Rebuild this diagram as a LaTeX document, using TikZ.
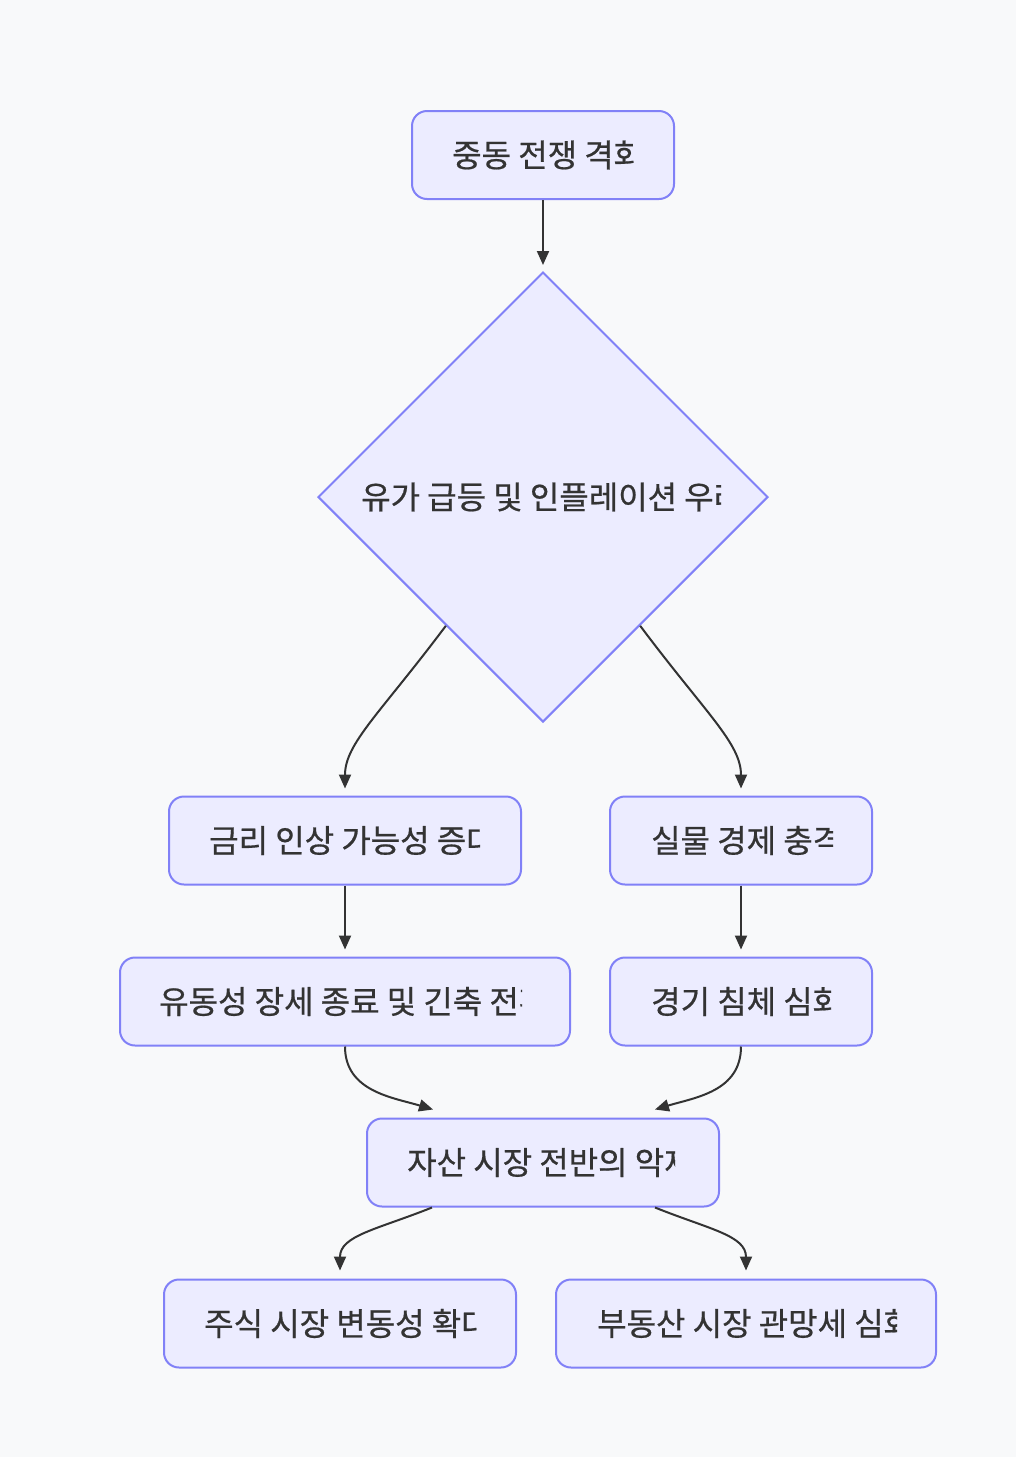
\documentclass[tikz,border=0pt]{standalone}
\usepackage{fontspec}
\setmainfont[FakeBold=0.6]{Noto Sans CJK KR}
\usetikzlibrary{arrows.meta,shapes.geometric,calc}
\definecolor{bgc}{HTML}{F8F9FA}
\definecolor{nodefill}{HTML}{ECECFF}
\definecolor{nodeline}{HTML}{8181F7}
\definecolor{txt}{HTML}{333333}
\newcommand\cliplabel[5]{%
  \begin{scope}
    \clip (#2-6,#4-32) rectangle (#3,#4+32);
    \node[lbl,anchor=west] (#1) at (#2,#4) {#5};
  \end{scope}}
\begin{document}
\begin{tikzpicture}[x=1pt,y=-1pt,
  box/.style={draw=nodeline,fill=nodefill,line width=2pt,rounded corners=15pt,inner sep=0pt},
  dia/.style={draw=nodeline,fill=nodefill,line width=2pt,diamond,aspect=1,inner sep=0pt,minimum width=450pt,minimum height=450pt},
  lbl/.style={inner sep=0pt,text=txt,font=\fontsize{32}{38}\selectfont},
  edge/.style={draw=txt,line width=2pt,-{Triangle[length=14pt,width=12pt]}}]
\fill[bgc] (0,0) rectangle (1016,1457);
\useasboundingbox (0,0) rectangle (1016,1457);

\node[box,minimum width=262pt,minimum height=88pt] (a) at (543,155) {};
\node[dia] (b) at (543,497) {};
\node[box,minimum width=352pt,minimum height=88pt] (c) at (345,840.5) {};
\node[box,minimum width=262pt,minimum height=88pt] (d) at (741,840.5) {};
\node[box,minimum width=450pt,minimum height=88pt] (e) at (345,1001.5) {};
\node[box,minimum width=262pt,minimum height=88pt] (f) at (741,1001.5) {};
\node[box,minimum width=352pt,minimum height=88pt] (g) at (543,1162.5) {};
\node[box,minimum width=352pt,minimum height=88pt] (h) at (340,1323.5) {};
\node[box,minimum width=380pt,minimum height=88pt] (i) at (746,1323.5) {};

\cliplabel{ta}{452}{634}{155}{중동 전쟁 격화}
\cliplabel{tb}{361}{721}{497}{유가 급등 및 인플레이션 우려}
\cliplabel{tc}{209}{480}{840.5}{금리 인상 가능성 증대}
\cliplabel{td}{651}{833}{840.5}{실물 경제 충격}
\cliplabel{te}{159}{522}{1001.5}{유동성 장세 종료 및 긴축 전환}
\cliplabel{tf}{651}{831}{1001.5}{경기 침체 심화}
\cliplabel{tg}{407}{675}{1162.5}{자산 시장 전반의 악재}
\cliplabel{th}{204}{477}{1323.5}{주식 시장 변동성 확대}
\cliplabel{ti}{597}{897}{1323.5}{부동산 시장 관망세 심화}

\draw[edge,shorten >=6pt] (a.south) -- (b.north);
\draw[edge] ($(b.west)!0.57!(b.south)$) .. controls +(-66,88) and +(0,-45) .. ($(c.north)+(0,-7)$);
\draw[edge] ($(b.east)!0.57!(b.south)$) .. controls +(66,88) and +(0,-45) .. ($(d.north)+(0,-7)$);
\draw[edge,shorten >=7pt] (c.south) -- (e.north);
\draw[edge,shorten >=7pt] (d.south) -- (f.north);
\draw[edge] (e.south) .. controls +(0,45) and +(-40,-12) .. ($(g.north)+(-110,-8)$);
\draw[edge] (f.south) .. controls +(0,45) and +(40,-12) .. ($(g.north)+(112,-8)$);
\draw[edge] ($(g.south)+(-111,0)$) .. controls +(-55,22) and +(0,-35) .. ($(h.north)+(0,-8)$);
\draw[edge] ($(g.south)+(112,0)$) .. controls +(55,22) and +(0,-35) .. ($(i.north)+(0,-8)$);
\end{tikzpicture}
\end{document}
